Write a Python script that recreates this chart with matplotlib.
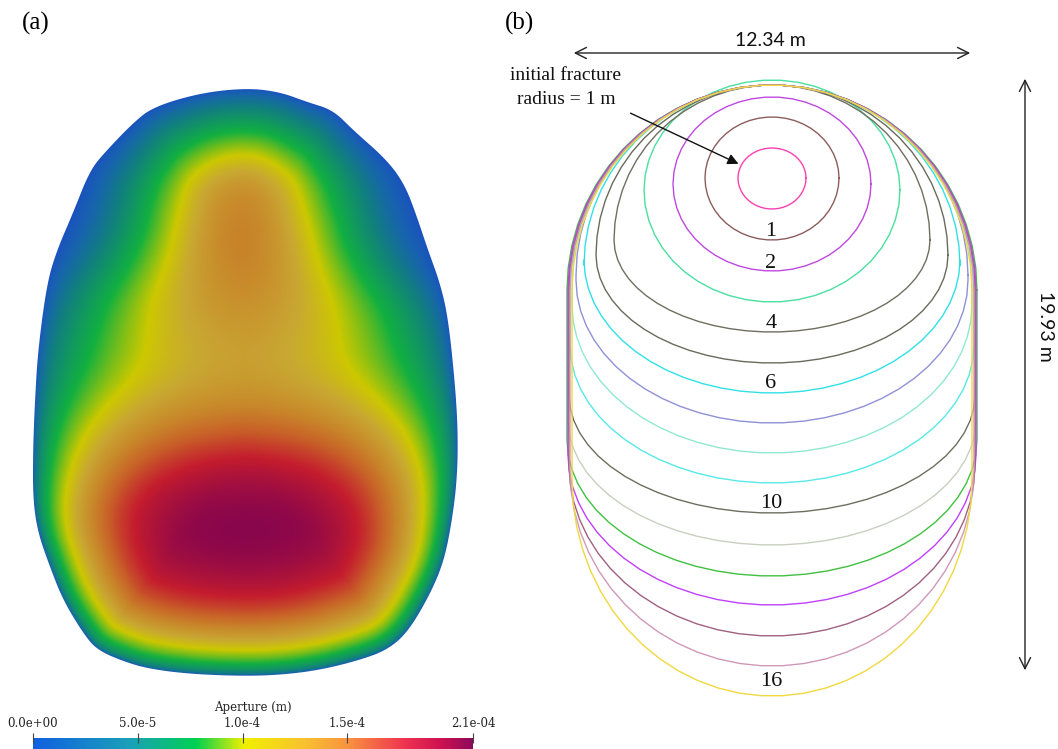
import numpy as np
import matplotlib
matplotlib.use("Agg")
import matplotlib.pyplot as plt
from matplotlib.colors import LinearSegmentedColormap, Normalize
from matplotlib.patches import Polygon
from matplotlib.path import Path
import matplotlib.colorbar as mcolorbar

W, H = 1058, 749

# ---------------- data: panel (a) ----------------
# outline of the fracture (image px), clockwise from the top
outline_x = [247, 280, 307, 333, 353, 387, 405, 417, 428, 440, 448, 455, 458, 457, 450, 442,
             427, 407, 387, 360, 320, 280, 240, 190, 150, 125, 97, 83, 63, 50, 38, 33,
             33, 35, 38, 47, 57, 73, 90, 107, 133, 153, 200]
outline_y = [88, 92, 102, 110, 130, 160, 185, 217, 250, 283, 317, 383, 433, 483, 533, 567,
             600, 633, 650, 660, 670, 675, 676, 674, 669, 662, 650, 633, 600, 567, 533, 500,
             450, 400, 350, 283, 250, 213, 170, 150, 123, 107, 93]
# aperture maxima (lower lobe, upper lobe)
peak_x = [247, 242]
peak_y = [547, 198]
peak_aperture = [2.1e-4, 1.45e-4]
aperture_max = 2.1e-4
cbar_ticks = [0.0, 5.0e-5, 1.0e-4, 1.5e-4, 2.1e-4]
cbar_ticklabels = ["0.0e+00", "5.0e-5", "1.0e-4", "1.5e-4", "2.1e-04"]

# ---------------- data: panel (b) ----------------
front_top    = [148, 117, 97, 80, 85, 85, 85, 85, 85, 85, 85, 85, 85, 85, 85, 85, 85]
front_upper  = [178, 178, 184, 190, 240, 255, 265, 275, 285, 290, 290, 290, 290, 290, 290, 290, 290]
front_lower  = [178, 178, 184, 190, 240, 255, 260, 280, 305, 345, 395, 420, 440, 455, 465, 470, 480]
front_bottom = [209, 240, 271, 302, 332, 363, 393, 423, 453, 483, 513, 545, 576, 605, 636, 666, 696]
front_halfw  = [34, 67, 99, 128, 158, 176, 188, 196, 200, 202, 203, 204, 205, 204, 203, 202, 200]
front_colors = ['#ff40b0', '#8c5c5c', '#c048e0', '#48e0a0', '#706e60', '#6a6a5c', '#30e0e8',
                '#9090d8', '#90e8d0', '#58e8e8', '#6e6e5e', '#c8d0c0', '#40c040', '#c040ff',
                '#a06080', '#d098b8', '#f0d840']
front_center_x = 772
label_steps = ['1', '2', '4', '6', '10', '16']
label_y = [231, 263, 323, 383, 503, 681]


# ---------------- helpers ----------------
def chaikin(x, y, n=3):
    p = np.column_stack([x, y]).astype(float)
    for _ in range(n):
        q = np.roll(p, -1, axis=0)
        a = 0.75 * p + 0.25 * q
        b = 0.25 * p + 0.75 * q
        p = np.empty((2 * len(a), 2))
        p[0::2] = a
        p[1::2] = b
    return p


def front_curve(top, yu, yl, bot, rx, cx, n=40):
    t = np.linspace(0, np.pi, n)
    xu = cx + rx * np.cos(t)
    yu_ = yu - (yu - top) * np.sin(t)
    t2 = np.linspace(np.pi, 2 * np.pi, n)
    xl = cx + rx * np.cos(t2)
    yl_ = yl - (bot - yl) * np.sin(t2)
    xs = np.concatenate([xu, xl, xu[:1]])
    ys = np.concatenate([yu_, yl_, yu_[:1]])
    return xs, ys


# ---------------- figure ----------------
fig = plt.figure(figsize=(W / 100, H / 100), dpi=100)
ax = fig.add_axes([0, 0, 1, 1])
ax.set_xlim(0, W)
ax.set_ylim(H, 0)
ax.axis('off')

# ----- panel (a): aperture field -----
field_cmap = LinearSegmentedColormap.from_list('field', [
    (0.0, '#1a4fc0'), (0.06, '#1862b0'), (0.16, '#11807e'), (0.33, '#12b040'),
    (0.42, '#7cbe18'), (0.49, '#cdc800'), (0.58, '#c8a832'), (0.68, '#c8862a'),
    (0.76, '#c86028'), (0.86, '#c41c2e'), (1.0, '#8a064c')])
bar_cmap = LinearSegmentedColormap.from_list('bar', [
    (0.0, '#1060e0'), (0.22, '#1aa0b8'), (0.37, '#00d050'), (0.48, '#f0f000'),
    (0.62, '#f8c030'), (0.72, '#f89040'), (0.85, '#ee3050'), (0.93, '#cc1050'),
    (1.0, '#8c0a5a')])

bnd = chaikin(outline_x, outline_y, 4)
gx = np.arange(26, 468, 2.0)
gy = np.arange(80, 686, 2.0)
X, Y = np.meshgrid(gx, gy)
pts = np.column_stack([X.ravel(), Y.ravel()])
dmin = np.full(len(pts), np.inf)
for i in range(0, len(pts), 4000):
    c = pts[i:i + 4000]
    d = np.sqrt((c[:, None, 0] - bnd[None, :, 0]) ** 2 + (c[:, None, 1] - bnd[None, :, 1]) ** 2)
    dmin[i:i + 4000] = d.min(axis=1)
D = dmin.reshape(X.shape)
inside = Path(bnd).contains_points(pts).reshape(X.shape)

a_low = peak_aperture[0] / aperture_max
a_up = peak_aperture[1] / aperture_max
dxl = X - peak_x[0]
dyl = Y - peak_y[0]
syl = np.where(dyl > 0, 300.0, 200.0)
C_low = a_low * np.exp(-((dxl / 450.0) ** 2 + (dyl / syl) ** 2))
dxu = X - peak_x[1]
dyu = Y - peak_y[1]
syu = np.where(dyu < 0, 110.0, 330.0)
sxu = 115.0 + 80.0 * (1.0 + np.tanh((Y - 300.0) / 60.0))
C_up = a_up * np.exp(-((dxu / sxu) ** 2 + (dyu / syu) ** 2))
k = 4.0
Hf = (C_low ** k + C_up ** k) ** (1.0 / k)
taper = np.sqrt(np.tanh(D / 90.0))
Wf = np.where(inside, Hf * taper, 0.0)
Wf = Wf / Wf.max() * aperture_max

im = ax.imshow(Wf, extent=(gx[0] - 1, gx[-1] + 1, gy[-1] + 1, gy[0] - 1), origin='upper',
               cmap=field_cmap, vmin=0, vmax=aperture_max, interpolation='bilinear',
               aspect='auto', zorder=1)
clip = Polygon(bnd, closed=True, transform=ax.transData, facecolor='none', edgecolor='none')
ax.add_patch(clip)
im.set_clip_path(clip)

# colorbar
cax = fig.add_axes([33 / W, 0, 440 / W, 11 / H])
cb = mcolorbar.ColorbarBase(cax, cmap=bar_cmap, norm=Normalize(0, aperture_max),
                            orientation='horizontal')
cb.outline.set_visible(False)
cax.xaxis.set_ticks_position('top')
cb.set_ticks(cbar_ticks)
cb.set_ticklabels(cbar_ticklabels)
cax.tick_params(axis='x', direction='inout', length=7, width=0.8, color='#444444',
                pad=2.5, labelsize=8.5, labelcolor='#222222')
for lab in cax.get_xticklabels():
    lab.set_family('DejaVu Serif')
fig.text(253 / W, 1 - 708 / H, 'Aperture (m)', ha='center', va='center',
         fontsize=8.5, family='DejaVu Serif', color='#222222')

# ----- panel (b): fracture fronts -----
for i in range(len(front_top)):
    n = 24 if i < 4 else 30
    xs, ys = front_curve(front_top[i], front_upper[i], front_lower[i], front_bottom[i],
                         front_halfw[i], front_center_x, n=n)
    ax.plot(xs, ys, color=front_colors[i], lw=1.0, zorder=2)

for lab, yy in zip(label_steps, label_y):
    ax.text(front_center_x - 1, yy, lab, ha='center', va='center', fontsize=16,
            family='Liberation Serif', color='#111111', zorder=3)

# panel labels
ax.text(36, 23, '(a)', ha='center', va='center', fontsize=18, family='Liberation Serif')
ax.text(520, 23, '(b)', ha='center', va='center', fontsize=18, family='Liberation Serif')

# dimension arrows
ax.annotate('', xy=(571, 53), xytext=(973, 53),
            arrowprops=dict(arrowstyle='<->', color='#222222', lw=1.0, mutation_scale=20))
ax.text(770, 40, '12.34 m', ha='center', va='center', fontsize=14, family='Lato', color='#111111')
ax.annotate('', xy=(1025, 76), xytext=(1025, 673),
            arrowprops=dict(arrowstyle='<->', color='#222222', lw=1.0, mutation_scale=20))
ax.text(1046, 326, '19.93 m', ha='center', va='center', fontsize=14, family='Lato',
        rotation=-90, color='#111111')

# initial fracture annotation
ax.text(566, 75, 'initial fracture', ha='center', va='center', fontsize=14,
        family='Liberation Serif', color='#111111')
ax.text(566, 100, 'radius = 1 m', ha='center', va='center', fontsize=14,
        family='Liberation Serif', color='#111111')
ax.annotate('', xy=(741, 165), xytext=(628, 112),
            arrowprops=dict(arrowstyle='-|>', color='#111111', lw=1.0, mutation_scale=16))

fig.savefig('out.png', dpi=100)
